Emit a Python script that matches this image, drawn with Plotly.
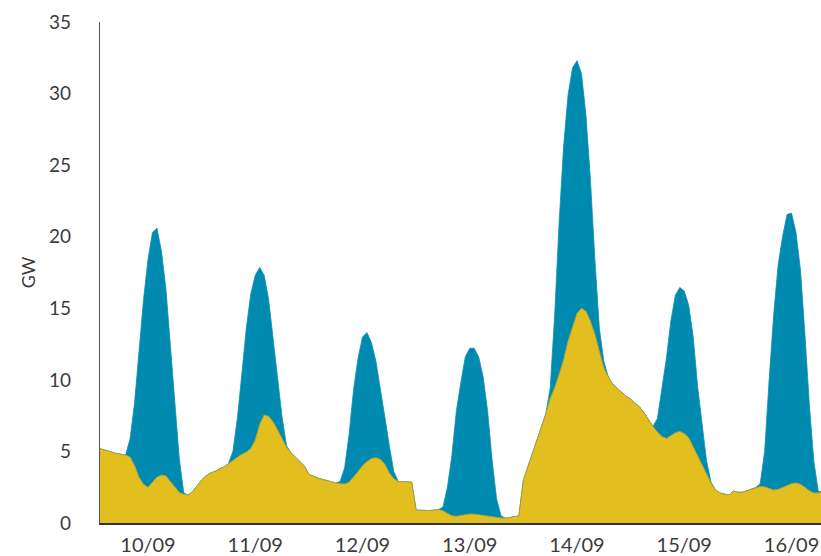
import pandas as pd
import plotly.graph_objects as go

# Hourly timestamps starting 10/09 00:00
start = "2023-09-10 00:00"

# Wind generation (GW), hourly (yellow area)
wind = [
    5.3, 5.2, 5.15, 5.05, 4.95, 4.85, 4.8, 4.75, 4.6, 4.0, 3.2, 2.7,
    2.5, 2.85, 3.2, 3.35, 3.3, 2.9, 2.5, 2.15, 2.0, 1.95, 2.2, 2.6,
    3.0, 3.3, 3.5, 3.6, 3.8, 3.9, 4.15, 4.4, 4.6, 4.8, 4.95, 5.2,
    5.8, 6.9, 7.55, 7.45, 7.07, 6.5, 5.9, 5.3, 4.9, 4.6, 4.3, 3.97,
    3.4, 3.25, 3.15, 3.05, 2.95, 2.85, 2.8, 2.75, 2.72, 2.85, 3.2, 3.6,
    4.0, 4.3, 4.5, 4.56, 4.45, 4.1, 3.5, 3.1, 2.9, 2.87, 2.86, 2.86,
    0.9, 0.88, 0.86, 0.87, 0.9, 0.95, 0.85, 0.65, 0.5, 0.47, 0.53, 0.58,
    0.63, 0.62, 0.57, 0.51, 0.47, 0.42, 0.38, 0.35, 0.33, 0.4, 0.45, 0.5,
    3.0, 3.9, 4.75, 5.65, 6.6, 7.6, 8.7, 9.45, 10.4, 11.4, 12.7, 13.75,
    14.65, 15.0, 14.8, 14.1, 13.2, 12.0, 10.85, 10.2, 9.7, 9.4, 9.1, 8.85,
    8.65, 8.4, 8.1, 7.7, 7.2, 6.75, 6.35, 6.05, 5.9, 6.1, 6.3, 6.4,
    6.25, 5.95, 5.3, 4.7, 4.1, 3.4, 2.8, 2.3, 2.1, 2.0, 1.95, 2.23,
    2.15, 2.15, 2.25, 2.38, 2.48, 2.55, 2.53, 2.42, 2.3, 2.35, 2.5, 2.6,
    2.75, 2.8, 2.7, 2.5, 2.25, 2.1, 2.1, 2.2,
]

# Solar generation (GW), hourly (blue area above wind)
solar = [
    0, 0, 0, 0, 0, 0, 0, 0, 1.3, 4.4, 8.8, 12.9,
    15.9, 17.45, 17.4, 15.65, 13.1, 9.4, 5.7, 2.35, 0.1, 0, 0, 0,
    0, 0, 0, 0, 0, 0, 0, 0.6, 2.7, 5.6, 8.65, 10.8,
    11.5, 10.95, 9.75, 8.15, 5.8, 3.35, 1.5, 0.1, 0, 0, 0, 0,
    0, 0, 0, 0, 0, 0, 0, 0.15, 1.13, 3.35, 6.1, 7.9,
    9.0, 9.0, 8.1, 6.74, 4.75, 3.3, 1.9, 0.5, 0, 0, 0, 0,
    0, 0, 0, 0, 0, 0, 0.25, 1.85, 4.2, 7.33, 9.27, 11.02,
    11.57, 11.58, 11.03, 9.69, 7.33, 3.98, 1.32, 0.15, 0, 0, 0, 0,
    0, 0, 0, 0, 0, 0, 0.7, 5.05, 10.6, 14.9, 17.2, 18.05,
    17.65, 16.4, 13.7, 9.9, 5.2, 1.6, 0.45, 0, 0, 0, 0, 0,
    0, 0, 0, 0, 0, 0, 0.95, 3.25, 5.6, 8.0, 9.6, 10.05,
    9.95, 9.25, 7.7, 4.8, 2.9, 0.9, 0.05, 0, 0, 0, 0, 0,
    0, 0, 0, 0, 0, 0.2, 2.5, 7.6, 12.2, 15.65, 17.5, 18.95,
    18.9, 17.5, 15.0, 10.7, 5.95, 2.2, 0.1, 0,
]

tick_days = ["2023-09-10", "2023-09-11", "2023-09-12", "2023-09-13",
             "2023-09-14", "2023-09-15", "2023-09-16"]
tick_labels = ["10/09", "11/09", "12/09", "13/09", "14/09", "15/09", "16/09"]
y_ticks = [0, 5, 10, 15, 20, 25, 30, 35]

times = pd.date_range(start, periods=len(wind), freq="h")
total = [w + s for w, s in zip(wind, solar)]
tick_vals = [pd.Timestamp(d) + pd.Timedelta(hours=12) for d in tick_days]

fig = go.Figure()
fig.add_trace(go.Scatter(
    x=times, y=total, mode="lines", fill="tozeroy",
    line=dict(color="#0a8fb3", width=0.8), fillcolor="#008aaf",
    name="Solar", hoverinfo="skip",
))
fig.add_trace(go.Scatter(
    x=times, y=wind, mode="lines", fill="tozeroy",
    line=dict(color="#a9a23c", width=1), fillcolor="#e2bf1f",
    name="Wind", hoverinfo="skip",
))

font_family = "Lato, Roboto, sans-serif"
fig.update_layout(
    width=821, height=556,
    margin=dict(l=100, r=0, t=22, b=33, autoexpand=False),
    paper_bgcolor="white", plot_bgcolor="white",
    showlegend=False,
    font=dict(family=font_family, size=18, color="#3c3c3c"),
)
fig.update_xaxes(
    type="date", automargin=False,
    range=[pd.Timestamp(start) + pd.Timedelta(hours=1.26),
           pd.Timestamp(start) + pd.Timedelta(hours=162.6)],
    tickvals=tick_vals, ticktext=tick_labels,
    showgrid=False, zeroline=False, ticks="",
    showline=True, linecolor="#333333", linewidth=2,
    ticklabelstandoff=3,
    tickfont=dict(size=20, color="#3c3c3c"),
)
fig.update_yaxes(
    range=[0, 35], tickvals=y_ticks, automargin=False,
    showgrid=False, zeroline=False, ticks="",
    showline=True, linecolor="#555555", linewidth=1.2,
    ticklabelstandoff=24,
    title=dict(text="GW", standoff=8, font=dict(size=18, color="#3c3c3c")),
    tickfont=dict(size=19, color="#3c3c3c"),
)

# remove the page's default body margin so the figure fills the window exactly
page_css = ("document.body.style.margin='0';"
            "document.body.style.overflow='hidden';")
fig.write_html("out.html", post_script=page_css,
               config={"displayModeBar": False, "staticPlot": True})
